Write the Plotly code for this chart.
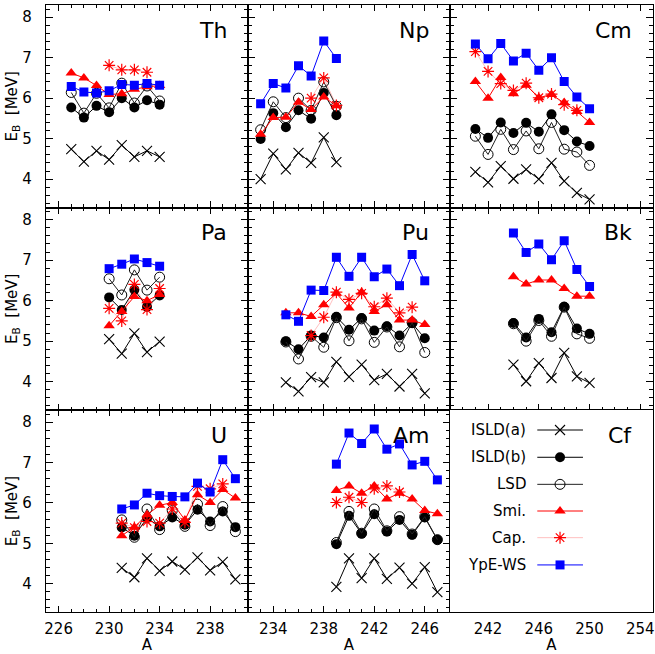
import plotly.graph_objects as go
from plotly.subplots import make_subplots

# ---------------- data ----------------
TH_A = [227, 228, 229, 230, 231, 232, 233, 234]
TH_ISLDA = [4.74, 4.43, 4.70, 4.48, 4.84, 4.55, 4.70, 4.55]
TH_ISLDB = [5.77, 5.52, 5.81, 5.65, 6.00, 5.77, 5.95, 5.84]
TH_LSD = [6.14, 5.63, 6.12, 5.76, 6.37, 5.88, 6.30, 5.93]
TH_SMI = [6.62, 6.50, 6.31, 6.09, 6.11, 6.22, 6.28, 6.31]
TH_CAP_A = [230, 231, 232, 233]
TH_CAP = [6.81, 6.70, 6.70, 6.64]
TH_YPE = [6.29, 6.15, 6.13, 6.18, 6.34, 6.32, 6.36, 6.32]

NP_A = [233, 234, 235, 236, 237, 238, 239]
NP_ISLDA = [4.00, 4.63, 4.24, 4.65, 4.40, 5.03, 4.42]
NP_ISLDB = [4.99, 5.63, 5.28, 5.70, 5.49, 6.13, 5.58]
NP_LSD = [5.22, 5.91, 5.52, 6.00, 5.70, 6.40, 5.80]
NP_SMI = [5.11, 5.52, 5.53, 5.90, 5.72, 6.03, 5.81]
NP_CAP_A = [237, 238, 239]
NP_CAP = [6.00, 6.50, 5.82]
NP_YPE = [5.86, 6.36, 6.25, 6.80, 6.55, 7.41, 6.98]

CM_A = [241, 242, 243, 244, 245, 246, 247, 248, 249, 250]
CM_ISLDA = [4.18, 3.92, 4.32, 4.01, 4.24, 4.00, 4.40, 3.95, 3.66, 3.50]
CM_ISLDB = [5.24, 5.02, 5.40, 5.14, 5.39, 5.17, 5.60, 5.21, 4.93, 4.82]
CM_LSD = [5.06, 4.61, 5.23, 4.73, 5.19, 4.75, 5.40, 4.74, 4.67, 4.34]
CM_SMI = [6.41, 6.00, 6.51, 6.11, 6.32, 6.01, 6.09, 5.89, 5.67, 5.40]
CM_CAP_A = [241, 242, 243, 244, 245, 246, 247, 248, 249]
CM_CAP = [7.15, 6.66, 6.36, 6.19, 6.37, 6.01, 6.10, 5.84, 5.70]
CM_YPE = [7.34, 6.97, 7.35, 6.92, 7.11, 6.69, 7.00, 6.41, 6.03, 5.74]

PA_A = [230, 231, 232, 233, 234]
PA_ISLDA = [5.05, 4.69, 5.19, 4.73, 4.99]
PA_ISLDB = [6.08, 5.77, 6.27, 5.85, 6.13]
PA_LSD = [6.54, 6.14, 6.76, 6.26, 6.58]
PA_SMI = [5.38, 5.73, 6.10, 6.00, 6.15]
PA_CAP_A = [230, 231, 232, 233, 234]
PA_CAP = [5.81, 5.50, 6.40, 5.78, 6.30]
PA_YPE = [6.79, 6.90, 7.03, 6.94, 6.85]

PU_A = [235, 236, 237, 238, 239, 240, 241, 242, 243, 244, 245, 246]
PU_ISLDA = [3.98, 3.76, 4.11, 3.98, 4.49, 4.12, 4.42, 4.04, 4.19, 3.88, 4.19, 3.71]
PU_ISLDB = [5.00, 4.80, 5.14, 5.09, 5.60, 5.28, 5.57, 5.26, 5.37, 5.14, 5.44, 5.07]
PU_LSD = [4.98, 4.56, 5.12, 4.85, 5.58, 5.01, 5.55, 4.97, 5.35, 4.86, 5.46, 4.72]
PU_SMI = [5.70, 5.70, 5.61, 5.90, 6.18, 5.82, 6.21, 5.73, 5.90, 5.52, 5.52, 5.41]
PU_CAP_A = [237, 238, 239, 240, 241, 242, 243, 244, 245]
PU_CAP = [5.14, 5.59, 6.21, 6.03, 6.18, 5.85, 6.06, 5.70, 5.84]
PU_YPE = [5.65, 5.49, 6.26, 6.25, 7.07, 6.60, 7.07, 6.59, 6.78, 6.37, 7.14, 6.49]

BK_A = [244, 245, 246, 247, 248, 249, 250]
BK_ISLDA = [4.42, 4.01, 4.46, 4.09, 4.71, 4.13, 3.97]
BK_ISLDB = [5.45, 5.09, 5.55, 5.22, 5.85, 5.31, 5.18]
BK_LSD = [5.43, 5.00, 5.51, 5.12, 5.84, 5.18, 5.07]
BK_SMI = [6.59, 6.41, 6.51, 6.51, 6.30, 6.11, 6.11]
BK_CAP_A = []
BK_CAP = []
BK_YPE = [7.67, 7.19, 7.40, 7.01, 7.48, 6.77, 6.35]

U_A = [231, 232, 233, 234, 235, 236, 237, 238, 239, 240]
U_ISLDA = [4.39, 4.16, 4.63, 4.32, 4.55, 4.35, 4.65, 4.33, 4.54, 4.11]
U_ISLDB = [5.39, 5.19, 5.62, 5.42, 5.64, 5.46, 5.83, 5.54, 5.79, 5.40]
U_LSD = [5.58, 5.15, 5.85, 5.34, 5.81, 5.42, 5.97, 5.44, 5.91, 5.29]
U_SMI = [5.19, 5.40, 5.71, 5.94, 6.01, 5.58, 6.20, 6.01, 6.33, 6.12]
U_CAP_A = [231, 232, 233, 234, 235, 236, 237, 238, 239]
U_CAP = [5.50, 5.39, 5.54, 5.50, 5.85, 5.52, 6.41, 6.35, 6.47]
U_YPE = [5.85, 5.95, 6.24, 6.18, 6.16, 6.15, 6.49, 6.27, 7.07, 6.60]

AM_A = [239, 240, 241, 242, 243, 244, 245, 246, 247]
AM_ISLDA = [3.92, 4.63, 4.14, 4.63, 4.12, 4.40, 4.00, 4.41, 3.79]
AM_ISLDB = [4.98, 5.68, 5.24, 5.72, 5.29, 5.58, 5.21, 5.64, 5.09]
AM_LSD = [5.02, 5.79, 5.25, 5.85, 5.31, 5.66, 5.23, 5.66, 5.09]
AM_SMI = [6.31, 6.42, 6.24, 6.42, 6.10, 6.24, 6.10, 5.81, 5.73]
AM_CAP_A = [239, 240, 241, 242, 243, 244]
AM_CAP = [6.01, 6.14, 6.01, 6.35, 6.42, 6.27]
AM_YPE = [6.96, 7.73, 7.47, 7.83, 7.33, 7.46, 6.94, 7.03, 6.57]

CF_A = [250, 251, 252, 253]
CF_ISLDA = [4.20, 3.95, 3.78, 3.48]
CF_ISLDB = [5.39, 5.15, 5.03, 4.76]
CF_LSD = [4.82, 4.80, 4.41, 4.36]
CF_SMI = [5.62, 6.26, 5.33, 5.42]
CF_CAP_A = []
CF_CAP = []
CF_YPE = [6.68, 6.27, 5.98, 5.62]

ELEMENTS = ["Th", "Np", "Cm", "Pa", "Pu", "Bk", "U", "Am", "Cf"]
SERIES_NAMES = ["ISLD(a)", "ISLD(b)", "LSD", "Smi.", "Cap.", "YpE-WS"]
X_RANGES = [[225, 241], [232, 248], [239, 255]]
Y_RANGE = [3.3, 8.3]

panels = {
    "Th": (TH_A, TH_ISLDA, TH_ISLDB, TH_LSD, TH_SMI, TH_CAP_A, TH_CAP, TH_YPE),
    "Np": (NP_A, NP_ISLDA, NP_ISLDB, NP_LSD, NP_SMI, NP_CAP_A, NP_CAP, NP_YPE),
    "Cm": (CM_A, CM_ISLDA, CM_ISLDB, CM_LSD, CM_SMI, CM_CAP_A, CM_CAP, CM_YPE),
    "Pa": (PA_A, PA_ISLDA, PA_ISLDB, PA_LSD, PA_SMI, PA_CAP_A, PA_CAP, PA_YPE),
    "Pu": (PU_A, PU_ISLDA, PU_ISLDB, PU_LSD, PU_SMI, PU_CAP_A, PU_CAP, PU_YPE),
    "Bk": (BK_A, BK_ISLDA, BK_ISLDB, BK_LSD, BK_SMI, BK_CAP_A, BK_CAP, BK_YPE),
    "U": (U_A, U_ISLDA, U_ISLDB, U_LSD, U_SMI, U_CAP_A, U_CAP, U_YPE),
    "Am": (AM_A, AM_ISLDA, AM_ISLDB, AM_LSD, AM_SMI, AM_CAP_A, AM_CAP, AM_YPE),
    "Cf": (CF_A, CF_ISLDA, CF_ISLDB, CF_LSD, CF_SMI, CF_CAP_A, CF_CAP, CF_YPE),
}

# ---------------- styles ----------------
STYLES = {
    "ISLD(a)": dict(line=dict(color="black", width=1),
                    marker=dict(symbol="x-thin-open", size=10, color="black",
                                line=dict(color="black", width=1.1))),
    "ISLD(b)": dict(line=dict(color="black", width=1),
                    marker=dict(symbol="circle", size=10, color="black")),
    "LSD": dict(line=dict(color="#222222", width=1),
                marker=dict(symbol="circle-open", size=10, color="black",
                            line=dict(color="black", width=1))),
    "Smi.": dict(line=dict(color="red", width=1),
                 marker=dict(symbol="triangle-up", size=10, color="red")),
    "Cap.": dict(line=dict(color="rgba(255,0,0,0.25)", width=1),
                 marker=dict(symbol="asterisk-open", size=10, color="red",
                             line=dict(color="red", width=1.2))),
    "YpE-WS": dict(line=dict(color="blue", width=1),
                   marker=dict(symbol="square", size=9, color="blue")),
}

FONT = "DejaVu Sans"

fig = make_subplots(rows=3, cols=3, horizontal_spacing=0, vertical_spacing=0)

for idx, el in enumerate(ELEMENTS):
    r, c = idx // 3 + 1, idx % 3 + 1
    A, ia, ib, lsd, smi, capA, cap, ype = panels[el]
    series = [
        ("ISLD(a)", A, ia), ("ISLD(b)", A, ib), ("LSD", A, lsd),
        ("Smi.", A, smi), ("Cap.", capA, cap), ("YpE-WS", A, ype),
    ]
    for name, xs, ys in series:
        if not xs:
            continue
        st = STYLES[name]
        fig.add_trace(go.Scatter(x=xs, y=ys, mode="lines+markers", name=name,
                                 line=st["line"], marker=st["marker"],
                                 showlegend=False, cliponaxis=True),
                      row=r, col=c)

# layout geometry
W, H = 655, 654
ML, MR, MT, MB = 46, 2, 5, 42
col_edges = [0, 202 / 607, 404 / 607, 1.0]
row_edges = [1.0, 1 - 202.5 / 607, 1 - 405 / 607, 0.0]

for idx, el in enumerate(ELEMENTS):
    r, c = idx // 3, idx % 3
    n = idx + 1
    xa = "xaxis" if n == 1 else f"xaxis{n}"
    ya = "yaxis" if n == 1 else f"yaxis{n}"
    common = dict(showline=True, linecolor="black", linewidth=1.3,
                  mirror="allticks", ticks="inside", tickcolor="black",
                  tickwidth=1, showgrid=False, zeroline=False,
                  automargin=False,
                  tickfont=dict(family=FONT, size=15, color="black"))
    fig.layout[xa].update(common)
    fig.layout[xa].update(domain=[col_edges[c], col_edges[c + 1]],
                          range=X_RANGES[c], tick0=2, dtick=4, ticklen=6,
                          minor=dict(ticks="inside", dtick=1, ticklen=3,
                                     tickcolor="black", showgrid=False),
                          showticklabels=(r == 2), ticklabelstandoff=3)
    fig.layout[ya].update(common)
    fig.layout[ya].update(domain=[row_edges[r + 1], row_edges[r]],
                          range=Y_RANGE, tick0=0, dtick=1, ticklen=7,
                          minor=dict(ticks="inside", dtick=0.2, ticklen=3.5,
                                     tickcolor="black", showgrid=False),
                          showticklabels=(c == 0), ticklabelstandoff=10)
    if r == 2:
        fig.layout[xa].title = dict(text="A", font=dict(family=FONT, size=15, color="black"),
                                    standoff=3)
    if c == 0:
        fig.layout[ya].title = dict(text="E<sub>B</sub>  [MeV]",
                                    font=dict(family=FONT, size=15, color="black"),
                                    standoff=0)
    # element label
    fig.add_annotation(x=1, y=1, xref=f"x{n if n > 1 else ''} domain",
                       yref=f"y{n if n > 1 else ''} domain",
                       xshift=-19, yshift=-11, xanchor="right", yanchor="top",
                       text=el, showarrow=False,
                       font=dict(family=FONT, size=22, color="black"))

# ---------------- manual legend in the Cf panel ----------------
LEG_Y = [0.901, 0.766, 0.632, 0.500, 0.368, 0.233]
LEG_X0, LEG_X1, LEG_XM, LEG_XT = 0.43, 0.655, 0.542, 0.385
fig.layout["xaxis10"] = dict(domain=[col_edges[2], col_edges[3]], range=[0, 1],
                             visible=False, anchor="y10")
fig.layout["yaxis10"] = dict(domain=[row_edges[3], row_edges[2]], range=[0, 1],
                             visible=False, anchor="x10")
for name, yy in zip(SERIES_NAMES, LEG_Y):
    st = STYLES[name]
    fig.add_trace(go.Scatter(x=[LEG_X0, LEG_X1], y=[yy, yy], mode="lines",
                             line=st["line"], showlegend=False,
                             xaxis="x10", yaxis="y10", hoverinfo="skip"))
    fig.add_trace(go.Scatter(x=[LEG_XM], y=[yy], mode="markers",
                             marker=st["marker"], showlegend=False,
                             xaxis="x10", yaxis="y10", hoverinfo="skip"))
    fig.add_annotation(x=LEG_XT, y=yy, xref="x10", yref="y10",
                       xanchor="right", yanchor="middle", text=name,
                       showarrow=False,
                       font=dict(family=FONT, size=15, color="black"))

fig.update_layout(width=W, height=H,
                  margin=dict(l=ML, r=MR, t=MT, b=MB),
                  paper_bgcolor="white", plot_bgcolor="white",
                  showlegend=False,
                  font=dict(family=FONT, size=15, color="black"))

fig.write_html("out.html", config={"displayModeBar": False},
               post_script="document.body.style.margin='0px';document.body.style.padding='0px';")
